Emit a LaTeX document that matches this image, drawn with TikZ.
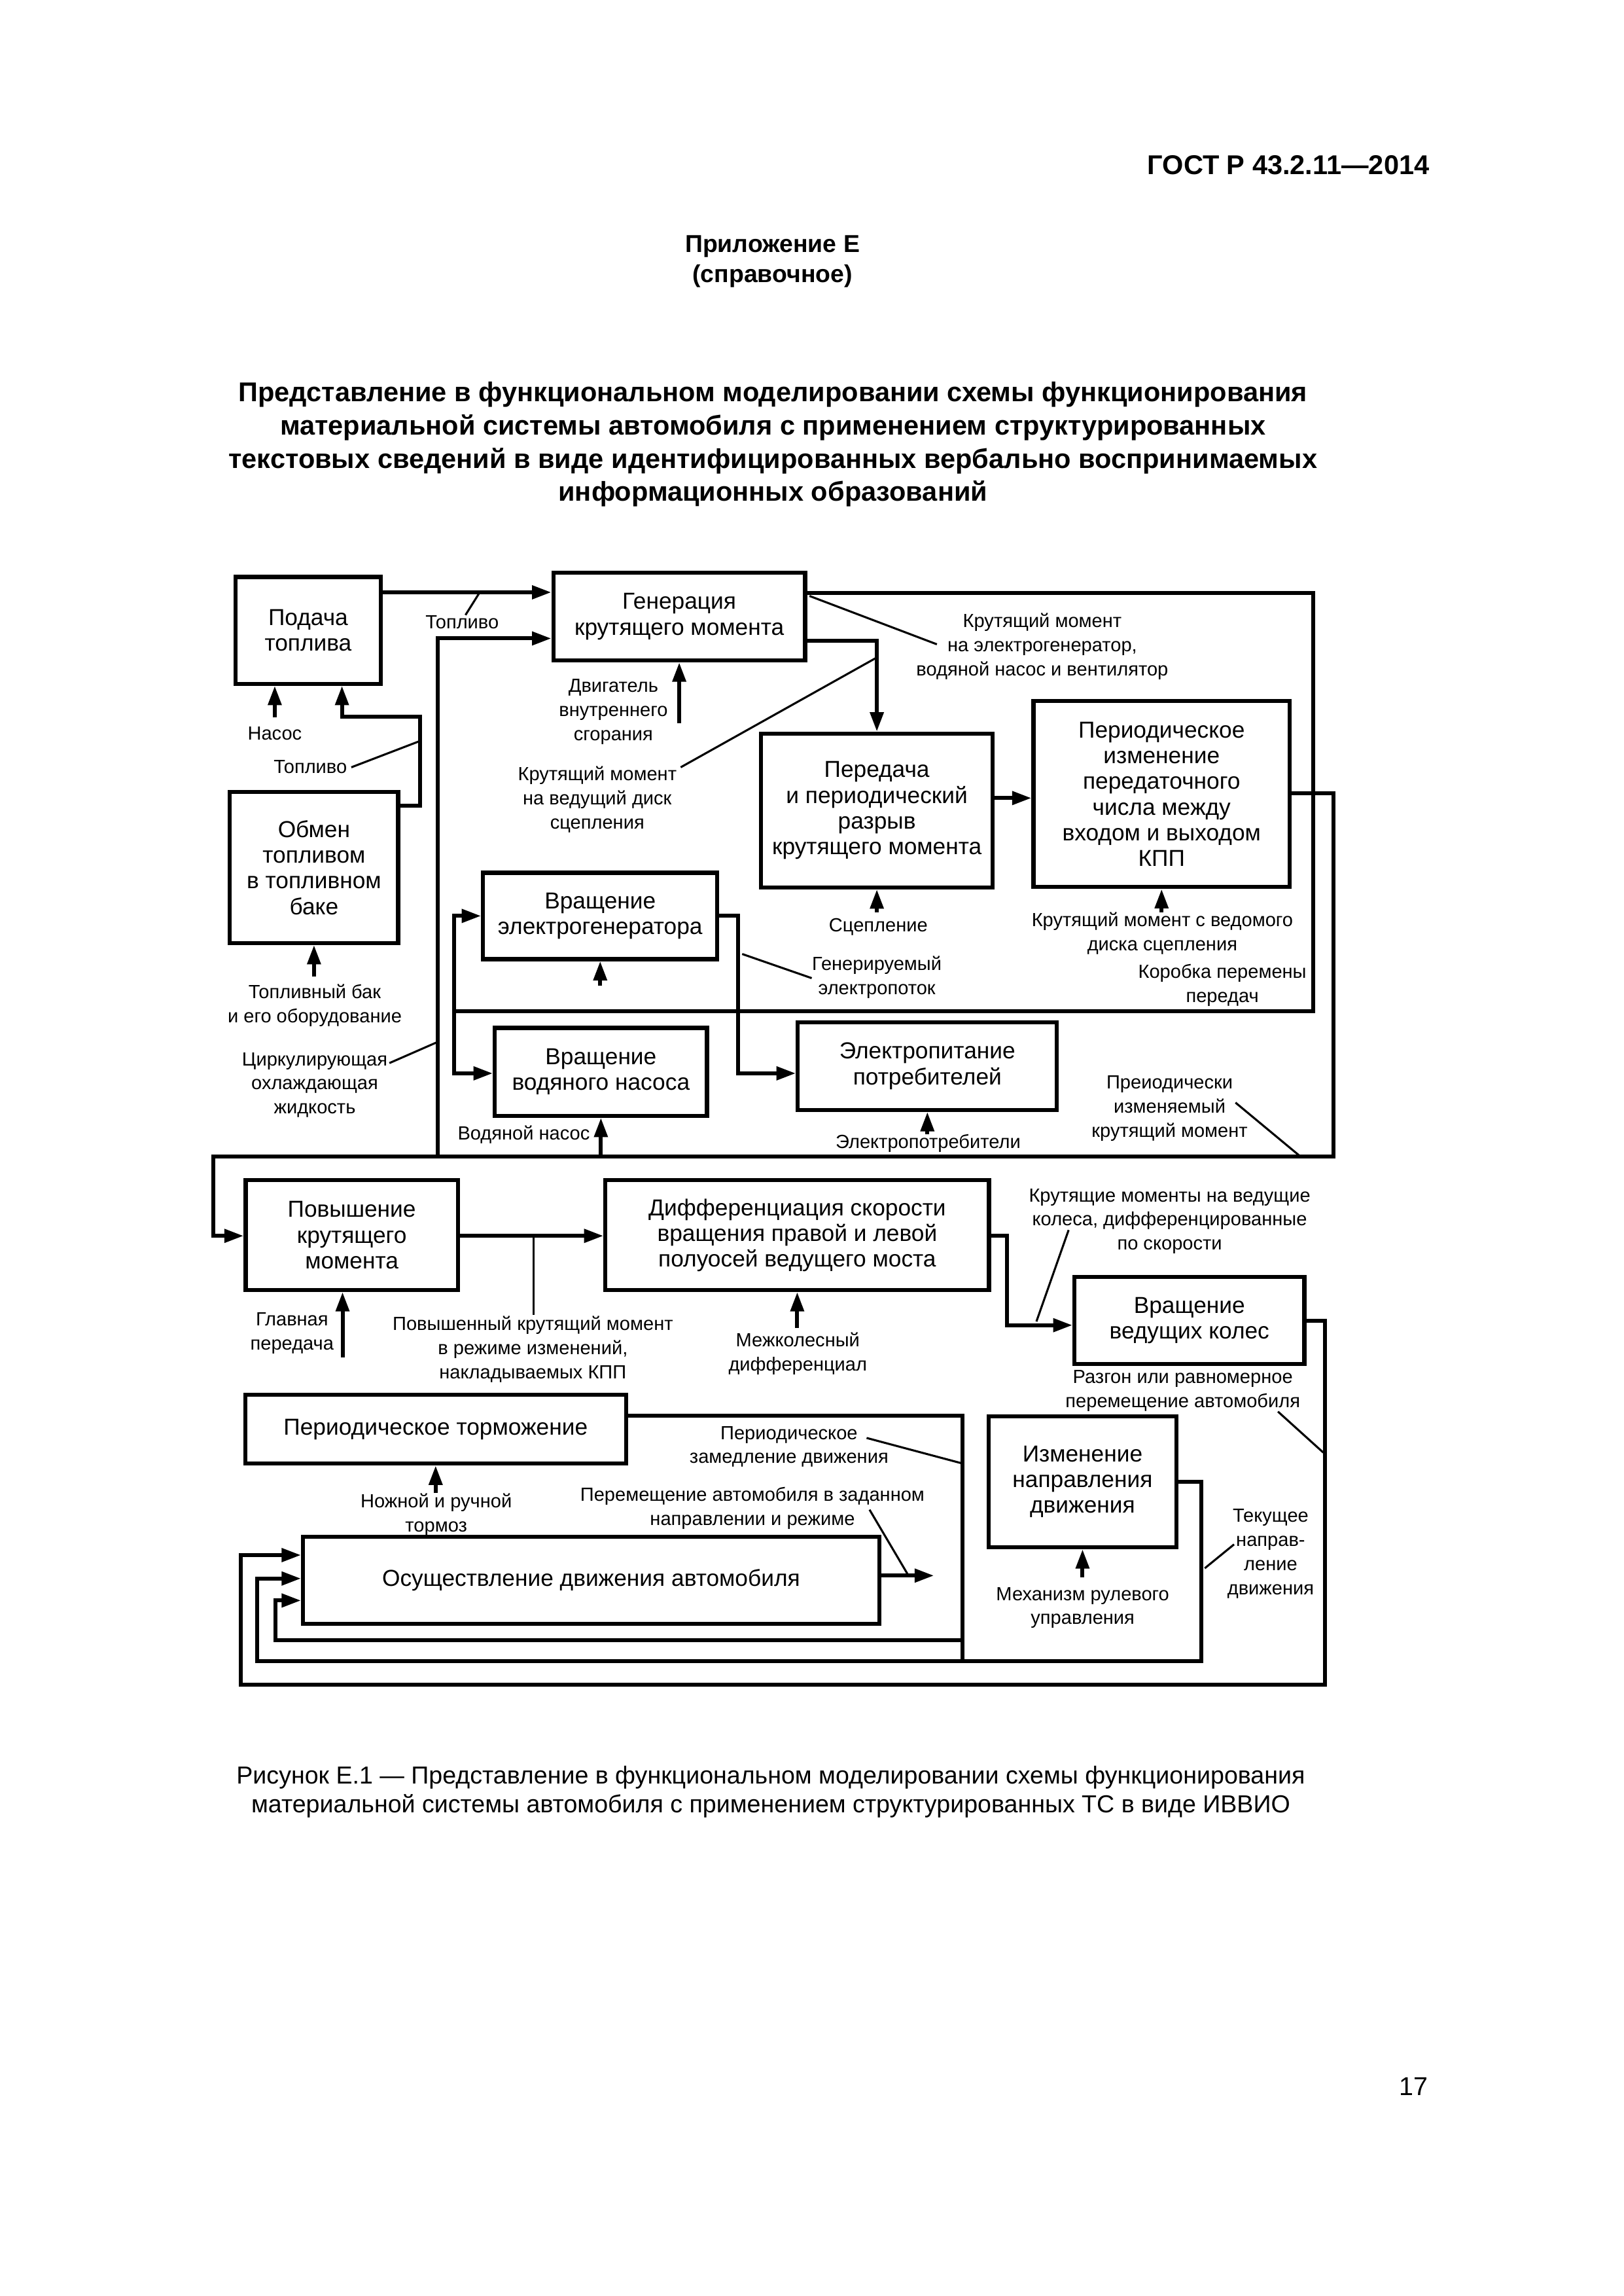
\documentclass[tikz,border=0pt]{standalone}
\usepackage{fontspec}
\setmainfont{Liberation Sans}
\usepackage{tikz}
\usetikzlibrary{arrows.meta}
\usetikzlibrary{positioning}
\newcommand{\edpx}{0.18936mm}

\begin{document}
\begin{tikzpicture}[
    x=0.18936mm, y=-0.18936mm,
    >={Triangle[length=2.5mm,width=1.7mm]},
    blok/.style={draw, line width=1.5pt, align=center, inner sep=0pt,
      font=\fontsize{8.5}{9.45}\selectfont},
    metka/.style={align=center, inner sep=0pt, font=\fontsize{7}{8.86}\selectfont},
    potok/.style={line width=1.45pt},
    vynoska/.style={line width=0.75pt}
  ]
  \useasboundingbox (0,0) rectangle (1109,1568);

  % Шапка страницы
  \node[anchor=base east, inner sep=0pt, font=\bfseries\fontsize{10}{12}\selectfont] (gost) at (976.7,119) {ГОСТ Р 43.2.11—2014};
  \node[align=center, font=\bfseries\fontsize{9}{11}\selectfont] (prilozh) at (527.7,178.5) {Приложение Е\\(справочное)};
  \node[align=center, font=\bfseries\fontsize{10}{12.2}\selectfont] (zagl) at (528,303.5) {Представление в функциональном моделировании схемы функционирования\\материальной системы автомобиля с применением структурированных\\текстовых сведений в виде идентифицированных вербально воспринимаемых\\информационных образований};

  % Блоки
  \node[blok, minimum width=99*\edpx, minimum height=73*\edpx] (podacha) at (210.5,430.5) {Подача\\топлива};
  \node[blok, minimum width=172*\edpx, minimum height=60*\edpx] (gener) at (464,421) {Генерация\\крутящего момента};
  \node[blok, minimum width=115*\edpx, minimum height=103*\edpx] (obmen) at (214.5,592.5) {Обмен\\топливом\\в топливном\\баке};
  \node[blok, minimum width=158*\edpx, minimum height=105*\edpx] (peredacha) at (599,553.5) {Передача\\и периодический\\разрыв\\крутящего момента};
  \node[blok, minimum width=175*\edpx, minimum height=127*\edpx] (kpp) at (793.5,542.3) {Периодическое\\изменение\\передаточного\\числа между\\входом и выходом\\КПП};
  \node[blok, minimum width=160*\edpx, minimum height=59*\edpx] (elgen) at (410,625.5) {Вращение\\электрогенератора};
  \node[blok, minimum width=145*\edpx, minimum height=60*\edpx] (nasos) at (410.5,732) {Вращение\\водяного насоса};
  \node[blok, minimum width=177*\edpx, minimum height=60*\edpx] (pitanie) at (633.5,728) {Электропитание\\потребителей};
  \node[blok, minimum width=145*\edpx, minimum height=75*\edpx] (povysh) at (240.3,843.5) {Повышение\\крутящего\\момента};
  \node[blok, minimum width=262*\edpx, minimum height=75*\edpx] (diff) at (544.6,843.5) {Дифференциация скорости\\вращения правой и левой\\полуосей ведущего моста};
  \node[blok, minimum width=157*\edpx, minimum height=59.5*\edpx] (kolesa) at (812.5,901.75) {Вращение\\ведущих колес};
  \node[blok, minimum width=260*\edpx, minimum height=47*\edpx] (tormoz) at (297.6,976) {Периодическое торможение};
  \node[blok, minimum width=128.3*\edpx, minimum height=89.3*\edpx] (izmen) at (739.5,1012) {Изменение\\направления\\движения};
  \node[blok, minimum width=393.6*\edpx, minimum height=59.5*\edpx] (dvizh) at (403.8,1079.3) {Осуществление движения автомобиля};

  % Подписи к потокам
  \node[metka] (toplivo1) at (315.7,425) {Топливо};
  \node[metka] (dvs) at (419,486) {Двигатель\\внутреннего\\сгорания};
  \node[metka] (diskmet) at (408,546) {Крутящий момент\\на ведущий диск\\сцепления};
  \node[metka] (elmom) at (712,441.5) {Крутящий момент\\на электрогенератор,\\водяной насос и вентилятор};
  \node[metka] (nasosmet) at (187.7,501) {Насос};
  \node[metka] (toplivo2) at (212,523.7) {Топливо};
  \node[metka] (bak) at (215,686.5) {Топливный бак\\и его оборудование};
  \node[metka] (zhidk) at (215,741) {Циркулирующая\\охлаждающая\\жидкость};
  \node[metka] (scepl) at (600,633) {Сцепление};
  \node[metka] (vedom) at (794,637.5) {Крутящий момент с ведомого\\диска сцепления};
  \node[metka] (korobka) at (835,673) {Коробка перемены\\передач};
  \node[metka] (elpotok) at (599,667.5) {Генерируемый\\электропоток};
  \node[metka] (vodnas) at (357.8,775) {Водяной насос};
  \node[metka] (potreb) at (634,781) {Электропотребители};
  \node[metka] (preiod) at (799,757) {Преиодически\\изменяемый\\крутящий момент};
  \node[metka] (povmom) at (364,921.5) {Повышенный крутящий момент\\в режиме изменений,\\накладываемых КПП};
  \node[metka] (glavn) at (199.5,910.5) {Главная\\передача};
  \node[metka] (mezhkol) at (545,924.5) {Межколесный\\дифференциал};
  \node[metka] (mompo) at (799,834) {Крутящие моменты на ведущие\\колеса, дифференцированные\\по скорости};
  \node[metka] (razgon) at (808,950) {Разгон или равномерное\\перемещение автомобиля};
  \node[metka] (zamedl) at (539,988) {Периодическое\\замедление движения};
  \node[metka] (nozhn) at (298,1034.4) {Ножной и ручной\\тормоз};
  \node[metka] (peremesch) at (514,1030) {Перемещение автомобиля в заданном\\направлении и режиме};
  \node[metka] (tekusch) at (868,1061) {Текущее\\направ-\\ление\\движения};
  \node[metka] (rul) at (739.6,1098) {Механизм рулевого\\управления};

  % Верхняя часть: топливо и генерация момента
  \draw[potok,->] (podacha.east |- 0,404.5) -- (gener.west |- 0,404.5);
  \draw[vynoska] (327.4,405) -- (318,420);
  \draw[potok,->] (299,790) |- (gener.west |- 0,436);
  \draw[potok,->] (gener.south |- 0,494) -- (gener.south);
  \draw[potok,->] (gener.east |- 0,437.5) -| (peredacha.north);
  \draw[vynoska] (465,524) -- (599,449);
  \draw[potok] (gener.east |- 0,405) -| (897,690.7) -- (310,690.7);
  \draw[potok,->] (310,690.7) |- (elgen.west);
  \draw[potok,->] (310,690.7) |- (nasos.west |- 0,733);
  \draw[vynoska] (553,407) -- (640,440);

  \draw[potok,->] (obmen.east |- 0,550.4) -| (287,489.5) -| (podacha.south -| 233.6,0);
  \draw[vynoska] (240,524) -- (287,506);
  \draw[potok,->] (187.7,490) -- (podacha.south -| 187.7,0);
  \draw[potok,->] (obmen.south |- 0,667) -- (obmen.south);
  \draw[vynoska] (266,726) -- (298,712);

  % Передача и КПП
  \draw[potok,->] (peredacha.east |- 0,545) -- (kpp.west |- 0,545);
  \draw[potok,->] (peredacha.south |- 0,623) -- (peredacha.south);
  \draw[potok,->] (kpp.south |- 0,623) -- (kpp.south);
  \draw[potok,->] (kpp.east |- 0,541.8) -| (911,790) -| (145.6,844) -- (povysh.west |- 0,844);

  % Электрогенератор, насос, потребители
  \draw[potok,->] (elgen.south |- 0,673) -- (elgen.south);
  \draw[potok,->] (elgen.east) -| (504,733) -- (pitanie.west |- 0,733);
  \draw[vynoska] (507,651.5) -- (554.5,668);
  \draw[potok,->] (nasos.south |- 0,790) -- (nasos.south);
  \draw[potok,->] (pitanie.south |- 0,774.6) -- (pitanie.south);
  \draw[vynoska] (844,753) -- (888.6,790);

  % Трансмиссия и колеса
  \draw[potok,->] (povysh.east |- 0,844) -- (diff.west |- 0,844);
  \draw[line width=0.6pt] (364.5,844) -- (364.5,898);
  \draw[potok,->] (234,927) -- (povysh.south -| 234,0);
  \draw[potok,->] (diff.south |- 0,907) -- (diff.south);
  \draw[potok,->] (diff.east |- 0,843.8) -| (688,905) -- (kolesa.west |- 0,905);
  \draw[vynoska] (708,902.5) -- (730,840);
  \draw[potok,->] (kolesa.east |- 0,902) -| (905,1150.5) -| (164.6,1062) -- (dvizh.west |- 0,1062);
  \draw[vynoska] (873,964) -- (904,992);

  % Торможение, направление, движение
  \draw[potok] (tormoz.east |- 0,966.8) -| (657.7,1134.5);
  \draw[potok,->] (657.7,1120) -| (188,1093) -- (dvizh.west |- 0,1093);
  \draw[vynoska] (592,982) -- (657.7,999.5);
  \draw[potok,->] (izmen.east |- 0,1012) -| (820.7,1134.5) -| (175.6,1078) -- (dvizh.west |- 0,1078);
  \draw[vynoska] (823,1071) -- (843,1054.7);
  \draw[potok,->] (izmen.south |- 0,1077) -- (izmen.south);
  \draw[potok,->] (tormoz.south |- 0,1019.7) -- (tormoz.south);
  \coordinate (vyhod) at (638,1076);
  \draw[potok,->] (dvizh.east |- 0,1076) -- (vyhod);
  \draw[vynoska] (594,1031) -- (620,1075);

  % Подпись рисунка и номер страницы
  \node[align=center, font=\fontsize{9.05}{10.6}\selectfont] (podpis) at (526.5,1223.6) {Рисунок Е.1 — Представление в функциональном моделировании схемы функционирования\\материальной системы автомобиля с применением структурированных ТС в виде ИВВИО};
  \node[font=\fontsize{9.5}{11}\selectfont] (nomer) at (965.6,1425) {17};
\end{tikzpicture}
\end{document}
